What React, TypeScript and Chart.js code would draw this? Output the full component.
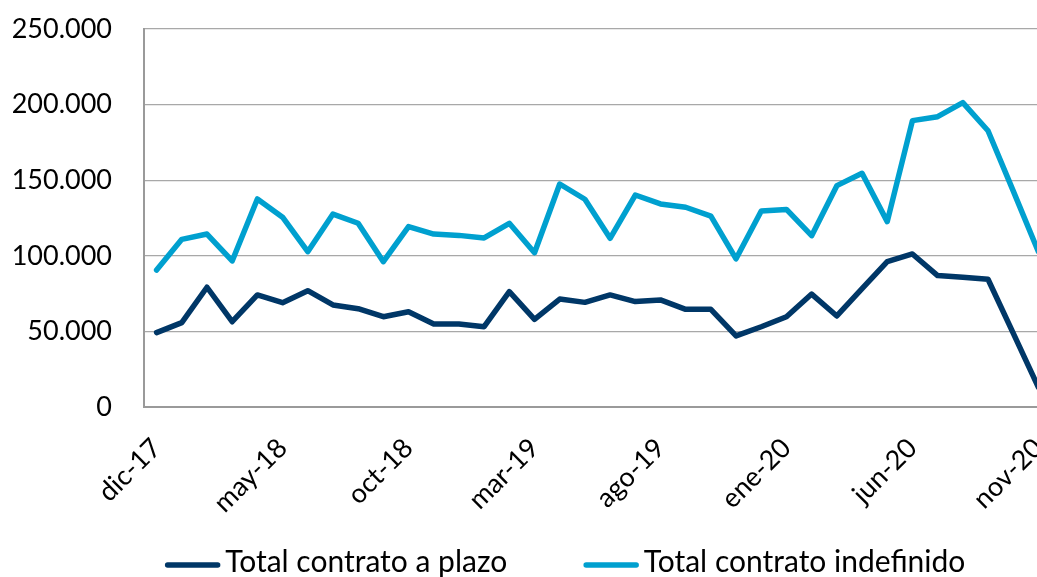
import React, { useEffect, useRef } from 'react';
import { Chart, registerables } from 'chart.js';

Chart.register(...registerables);

const months = [
  'dic-17', 'ene-18', 'feb-18', 'mar-18', 'abr-18', 'may-18', 'jun-18', 'jul-18', 'ago-18', 'sep-18',
  'oct-18', 'nov-18', 'dic-18', 'ene-19', 'feb-19', 'mar-19', 'abr-19', 'may-19', 'jun-19', 'jul-19',
  'ago-19', 'sep-19', 'oct-19', 'nov-19', 'dic-19', 'ene-20', 'feb-20', 'mar-20', 'abr-20', 'may-20',
  'jun-20', 'jul-20', 'ago-20', 'sep-20', 'oct-20', 'nov-20',
];

const contratoPlazo = [
  49200, 55800, 79200, 56400, 74100, 69000, 76900, 67500, 65000, 59700,
  63000, 54900, 54900, 53100, 76300, 58000, 71400, 69200, 74100, 69700,
  70800, 64600, 64600, 47000, 53100, 59700, 74700, 60200, 78300, 96100,
  101200, 86900, 85800, 84500, 48900, 13000,
];

const contratoIndefinido = [
  90600, 110900, 114400, 96600, 137600, 125500, 102700, 127600, 121500, 96100,
  119300, 114400, 113500, 111800, 121500, 102000, 147500, 137400, 111600, 140200,
  134300, 132100, 126300, 98000, 129600, 130700, 113300, 146400, 154600, 122600,
  189400, 192000, 201300, 182700, 142900, 102700,
];

const seriesNames = ['Total contrato a plazo', 'Total contrato indefinido'];
const seriesColors = ['#003767', '#00A0CF'];
const yTicks = [0, 50000, 100000, 150000, 200000, 250000];
const labelEvery = 5;

const FONT = 'Lato, "Open Sans", sans-serif';
const GRID = '#a8a8a8';
const AXIS = '#9a9a9a';

function fmt(v: number): string {
  const s = Math.round(v).toString();
  return s.replace(/\B(?=(\d{3})+(?!\d))/g, '.');
}

const bottomLegend = {
  id: 'bottomLegend',
  afterDraw(chart: any) {
    const ctx = chart.ctx as CanvasRenderingContext2D;
    ctx.save();
    ctx.font = `30px ${FONT}`;
    const sample = 56;
    const textGap = 4.5;
    const itemGap = 76;
    const items = chart.data.datasets.map((ds: any) => ({
      text: ds.label as string,
      color: ds.borderColor as string,
      w: ctx.measureText(ds.label).width,
    }));
    const total =
      items.reduce((a: number, it: any) => a + sample + textGap + it.w, 0) + itemGap * (items.length - 1);
    let x = 565 - total / 2;
    const lineY = 565;
    const baseY = 572;
    for (const it of items) {
      ctx.beginPath();
      ctx.strokeStyle = it.color;
      ctx.lineWidth = 5.5;
      ctx.lineCap = 'round';
      ctx.moveTo(x + 3, lineY);
      ctx.lineTo(x + sample - 3, lineY);
      ctx.stroke();
      ctx.fillStyle = '#000';
      ctx.textAlign = 'left';
      ctx.textBaseline = 'alphabetic';
      ctx.fillText(it.text, x + sample + textGap, baseY);
      x += sample + textGap + it.w + itemGap;
    }
    ctx.restore();
  },
};

export default function App() {
  const ref = useRef<HTMLCanvasElement | null>(null);

  useEffect(() => {
    if (!ref.current) return;
    const chart = new Chart(ref.current, {
      type: 'line',
      data: {
        labels: months,
        datasets: [
          {
            label: seriesNames[0],
            data: contratoPlazo,
            borderColor: seriesColors[0],
            backgroundColor: seriesColors[0],
            borderWidth: 5.5,
            pointRadius: 0,
            borderCapStyle: 'round',
            borderJoinStyle: 'round',
            tension: 0,
          },
          {
            label: seriesNames[1],
            data: contratoIndefinido,
            borderColor: seriesColors[1],
            backgroundColor: seriesColors[1],
            borderWidth: 5.5,
            pointRadius: 0,
            borderCapStyle: 'round',
            borderJoinStyle: 'round',
            tension: 0,
          },
        ],
      },
      options: {
        responsive: true,
        maintainAspectRatio: false,
        animation: false,
        layout: { padding: { left: 10, right: 9, top: 29, bottom: 40 } },
        plugins: {
          legend: { display: false },
          tooltip: { enabled: false },
        },
        scales: {
          x: {
            offset: true,
            grid: { display: false, drawTicks: false },
            border: { display: true, color: AXIS, width: 2 },
            ticks: {
              autoSkip: false,
              minRotation: 45,
              maxRotation: 45,
              padding: 25,
              color: '#000',
              font: { family: FONT, size: 27 },
              callback: (_v: any, i: number) => (i % labelEvery === 0 ? months[i] : null),
            },
            afterFit: (s: any) => {
              s.height = 130;
              s.paddingLeft = 0;
              s.paddingRight = 0;
            },
          },
          y: {
            min: 0,
            max: 250000,
            afterBuildTicks: (s: any) => {
              s.ticks = yTicks.map((v) => ({ value: v }));
            },
            grid: { color: GRID, lineWidth: 1.3, drawTicks: false },
            border: { display: true, color: AXIS, width: 2 },
            ticks: {
              padding: 32,
              color: '#000',
              font: { family: FONT, size: 27 },
              callback: (v: any) => fmt(Number(v)),
            },
            afterFit: (s: any) => {
              s.width = 134;
              s.paddingTop = 0;
              s.paddingBottom = 0;
            },
          },
        },
      },
      plugins: [bottomLegend],
    });
    return () => chart.destroy();
  }, []);

  return (
    <div style={{ position: 'absolute', left: 0, top: 0, width: 1037, height: 577, overflow: 'hidden', background: '#fff' }}>
      <div style={{ position: 'relative', width: 1060, height: 577 }}>
        <canvas ref={ref} />
      </div>
    </div>
  );
}
